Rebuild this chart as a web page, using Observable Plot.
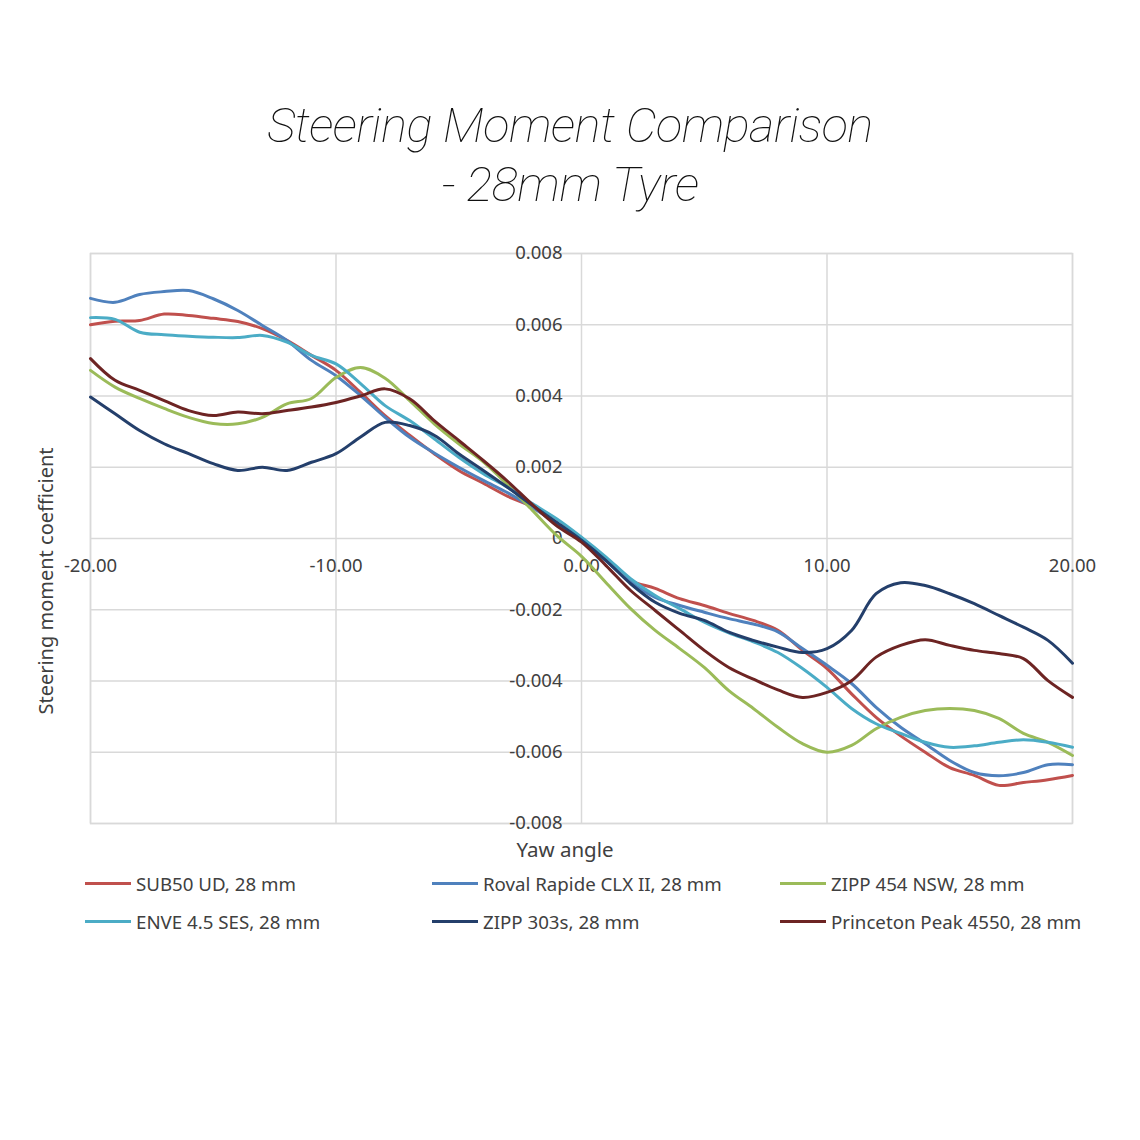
<!DOCTYPE html>
<html>
<head>
<meta charset="utf-8">
<script src="https://cdn.jsdelivr.net/npm/d3@7"></script>
<script src="https://cdn.jsdelivr.net/npm/@observablehq/plot@0.6"></script>
<style>
  html, body { margin: 0; padding: 0; background: #fff; }
  #wrap { position: relative; width: 1140px; height: 1140px; overflow: hidden; font-family: "Noto Sans", "Open Sans", sans-serif; color: #404040; }
  .title { position: absolute; left: 0; width: 1140px; text-align: center; font-family: Roboto, "Liberation Sans", sans-serif; font-weight: 100; font-style: italic; font-size: 49px; color: #111; letter-spacing: -0.5px; }
  #chart { position: absolute; left: 0; top: 240px; }
  .axlab { position: absolute; font-size: 20px; color: #404040; white-space: nowrap; }
  .leg { position: absolute; font-size: 18.7px; color: #404040; white-space: nowrap; display: flex; align-items: center; }
  .leg span.sw { display: inline-block; width: 46px; height: 3px; margin-right: 5px; }
</style>
</head>
<body>
<div id="wrap">
  <div class="title" style="top:97px;">Steering Moment Comparison</div>
  <div class="title" style="top:156px;">- 28mm Tyre</div>
  <div id="chart"></div>
  <div class="axlab" style="left:565px; top:835px; font-size:20.5px; transform:translateX(-50%);">Yaw angle</div>
  <div class="axlab" style="left:45px; top:581px; transform:translate(-50%,-50%) rotate(-90deg);">Steering moment coefficient</div>
  <div id="legend"></div>
</div>
<script>
const yaw = [-20,-19,-18,-17,-16,-15,-14,-13,-12,-11,-10,-9,-8,-7,-6,-5,-4,-3,-2,-1,0,1,2,3,4,5,6,7,8,9,10,11,12,13,14,15,16,17,18,19,20];

const sub50 = [0.00600,0.00610,0.00612,0.00630,0.00626,0.00618,0.00609,0.00589,0.00556,0.00514,0.00472,0.00410,0.00345,0.00290,0.00238,0.00191,0.00155,0.00118,0.00088,0.00040,-0.00005,-0.00062,-0.00118,-0.00140,-0.00169,-0.00188,-0.00210,-0.00230,-0.00258,-0.00314,-0.00365,-0.00436,-0.00502,-0.00554,-0.00600,-0.00643,-0.00665,-0.00693,-0.00685,-0.00677,-0.00665];

const roval = [0.00674,0.00663,0.00685,0.00693,0.00696,0.00673,0.00640,0.00598,0.00556,0.00500,0.00457,0.00401,0.00340,0.00284,0.00240,0.00200,0.00163,0.00128,0.00087,0.00042,-0.00005,-0.00062,-0.00123,-0.00165,-0.00188,-0.00207,-0.00225,-0.00240,-0.00262,-0.00309,-0.00356,-0.00407,-0.00474,-0.00530,-0.00576,-0.00623,-0.00657,-0.00666,-0.00657,-0.00635,-0.00635];

const zipp454 = [0.00472,0.00425,0.00393,0.00365,0.00340,0.00323,0.00322,0.00340,0.00378,0.00393,0.00452,0.00480,0.00450,0.00387,0.00322,0.00266,0.00215,0.00150,0.00079,0.00008,-0.00050,-0.00124,-0.00197,-0.00258,-0.00309,-0.00362,-0.00427,-0.00477,-0.00530,-0.00576,-0.00600,-0.00581,-0.00534,-0.00502,-0.00483,-0.00477,-0.00483,-0.00505,-0.00547,-0.00572,-0.00609];

const enve = [0.00620,0.00615,0.00579,0.00572,0.00568,0.00565,0.00564,0.00570,0.00551,0.00514,0.00490,0.00435,0.00373,0.00331,0.00280,0.00228,0.00182,0.00143,0.00098,0.00055,0.00004,-0.00052,-0.00113,-0.00160,-0.00197,-0.00235,-0.00265,-0.00290,-0.00320,-0.00365,-0.00418,-0.00477,-0.00520,-0.00547,-0.00572,-0.00586,-0.00582,-0.00572,-0.00565,-0.00572,-0.00586];

const zipp303 = [0.00397,0.00350,0.00303,0.00266,0.00238,0.00210,0.00191,0.00200,0.00191,0.00214,0.00238,0.00285,0.00326,0.00317,0.00290,0.00238,0.00191,0.00143,0.00093,0.00045,-0.00005,-0.00062,-0.00127,-0.00179,-0.00210,-0.00230,-0.00263,-0.00286,-0.00305,-0.00320,-0.00309,-0.00258,-0.00155,-0.00124,-0.00132,-0.00155,-0.00183,-0.00216,-0.00249,-0.00286,-0.00350];

const princeton = [0.00505,0.00444,0.00416,0.00387,0.00359,0.00345,0.00355,0.00350,0.00359,0.00369,0.00382,0.00400,0.00420,0.00392,0.00331,0.00275,0.00219,0.00160,0.00095,0.00035,-0.00010,-0.00076,-0.00146,-0.00202,-0.00258,-0.00314,-0.00362,-0.00395,-0.00425,-0.00446,-0.00432,-0.00399,-0.00333,-0.00300,-0.00284,-0.00300,-0.00314,-0.00323,-0.00337,-0.00399,-0.00446];

const seriesNames = ["SUB50 UD, 28 mm","Roval Rapide CLX II, 28 mm","ZIPP 454 NSW, 28 mm","ENVE 4.5 SES, 28 mm","ZIPP 303s, 28 mm","Princeton Peak 4550, 28 mm"];
const seriesValues = [sub50, roval, zipp454, enve, zipp303, princeton];
const seriesColors = ["#c0504d","#4f81bd","#9bbb59","#4bacc6","#243f6b","#6d2423"];

const xTicks = [-20,-10,0,10,20];
const xTickLabels = ["-20.00","-10.00","0.00","10.00","20.00"];
const yTicks = [0.008,0.006,0.004,0.002,0,-0.002,-0.004,-0.006,-0.008];
const yTickLabels = ["0.008","0.006","0.004","0.002","0","-0.002","-0.004","-0.006","-0.008"];

const rows = [];
seriesNames.forEach((name, i) => {
  seriesValues[i].forEach((v, j) => rows.push({series: name, yaw: yaw[j], value: v}));
});

const grid = "#d9d9d9";
const chart = Plot.plot({
  width: 1140,
  height: 620,
  marginLeft: 90,
  marginRight: 68,
  marginTop: 13,
  marginBottom: 37,
  style: {background: "transparent", fontFamily: "'Noto Sans', sans-serif"},
  x: {domain: [-20, 20], axis: null},
  y: {domain: [-0.008, 0.008], axis: null},
  color: {domain: seriesNames, range: seriesColors},
  marks: [
    Plot.ruleX(xTicks, {stroke: grid, strokeWidth: 1.5}),
    Plot.ruleY(yTicks, {stroke: grid, strokeWidth: 1.5}),
    Plot.frame({stroke: grid, strokeWidth: 1.5}),
    Plot.text(yTicks.map((t, i) => ({t, label: yTickLabels[i]})), {
      x: () => 0, y: "t", text: "label", textAnchor: "end", dx: -19, fill: "#404040", fontSize: 18.5
    }),
    Plot.text(xTicks.map((t, i) => ({t, label: xTickLabels[i]})), {
      x: "t", y: () => 0, text: "label", dy: 28, fill: "#404040", fontSize: 18.5
    }),
    Plot.line(rows, {x: "yaw", y: "value", z: "series", stroke: "series", strokeWidth: 3, curve: "catmull-rom"})
  ]
});
document.getElementById("chart").appendChild(chart);

// legend
const legend = document.getElementById("legend");
const legPos = [[85,884],[432,884],[780,884],[85,922],[432,922],[780,922]];
seriesNames.forEach((name, i) => {
  const d = document.createElement("div");
  d.className = "leg";
  d.style.left = legPos[i][0] + "px";
  d.style.top = (legPos[i][1] - 13) + "px";
  d.innerHTML = `<span class="sw" style="background:${seriesColors[i]}"></span>${name}`;
  legend.appendChild(d);
});
</script>
</body>
</html>
